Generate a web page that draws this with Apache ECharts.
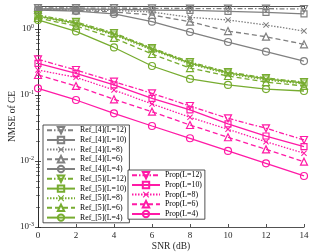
<!DOCTYPE html>
<html><head><meta charset="utf-8">
<script src="https://cdn.jsdelivr.net/npm/echarts@6/dist/echarts.min.js"></script>
<style>html,body{margin:0;padding:0;background:#fff}#c{width:318px;height:252px}</style>
</head><body><div id="c"></div>
<script>
const snr = [0, 2, 4, 6, 8, 10, 12, 14];
const yTicks = [0.001, 0.01, 0.1, 1];

const ref4_L12 = [2.08, 2.08, 2.07, 2.05, 2.04, 2.04, 2.03, 2.01];
const ref4_L10 = [2.01, 2.01, 1.98, 1.94, 1.91, 1.85, 1.78, 1.69];
const ref4_L8  = [2.01, 1.94, 1.91, 1.81, 1.50, 1.37, 1.15, 0.93];
const ref4_L6  = [1.94, 1.91, 1.81, 1.63, 1.29, 0.93, 0.764, 0.586];
const ref4_L4  = [1.94, 1.87, 1.69, 1.29, 0.90, 0.635, 0.453, 0.327];

const ref5_L12 = [1.63, 1.28, 0.869, 0.515, 0.316, 0.223, 0.181, 0.157];
const ref5_L10 = [1.57, 1.23, 0.84, 0.498, 0.305, 0.216, 0.175, 0.152];
const ref5_L8  = [1.55, 1.19, 0.811, 0.481, 0.295, 0.208, 0.169, 0.147];
const ref5_L6  = [1.47, 1.11, 0.731, 0.418, 0.256, 0.194, 0.157, 0.137];
const ref5_L4  = [1.37, 0.917, 0.525, 0.275, 0.175, 0.142, 0.123, 0.115];

const prop_L12 = [0.347, 0.239, 0.159, 0.106, 0.0681, 0.0443, 0.0313, 0.0208];
const prop_L10 = [0.302, 0.213, 0.142, 0.0891, 0.0593, 0.0364, 0.0239, 0.0165];
const prop_L8  = [0.239, 0.185, 0.119, 0.0731, 0.0459, 0.0302, 0.0196, 0.0131];
const prop_L6  = [0.201, 0.137, 0.0861, 0.0558, 0.0351, 0.0229, 0.0150, 0.00976];
const prop_L4  = [0.126, 0.0840, 0.0528, 0.0339, 0.0221, 0.0142, 0.00923, 0.00593];

const GRAY = '#808080', GREEN = '#77ac30', MAG = '#ff1aa6';
const AX = '#262626';
const FONT = 'Liberation Serif';
const CROSS = 'path://M0,1.2L1.2,0L5,3.8L8.8,0L10,1.2L6.2,5L10,8.8L8.8,10L5,6.2L1.2,10L0,8.8L3.8,5Z';

const styles = {
  12: {type: [5, 2, 1.5, 2], symbol: 'triangle', rotate: 180, size: 7},
  10: {type: 'solid', symbol: 'rect', rotate: 0, size: 6},
  8:  {type: [1.5, 1.5], symbol: CROSS, rotate: 0, size: 6, fill: true},
  6:  {type: [5, 3], symbol: 'triangle', rotate: 0, size: 7},
  4:  {type: 'solid', symbol: 'circle', rotate: 0, size: 7}
};

function mk(name, vals, color, L) {
  const s = styles[L];
  return {
    name: name, type: 'line',
    data: snr.map((x, i) => [x, vals[i]]),
    symbol: s.symbol, symbolSize: s.size, symbolRotate: s.rotate,
    showAllSymbol: true,
    lineStyle: {color: color, width: 1.3, type: s.type},
    itemStyle: s.fill ? {color: color} : {color: 'rgba(255,255,255,0)', borderColor: color, borderWidth: 1.2},
    emphasis: {disabled: true},
    animation: false
  };
}

const series = [
  mk('Ref_[4](L=12)', ref4_L12, GRAY, 12),
  mk('Ref_[4](L=10)', ref4_L10, GRAY, 10),
  mk('Ref_[4](L=8)', ref4_L8, GRAY, 8),
  mk('Ref_[4](L=6)', ref4_L6, GRAY, 6),
  mk('Ref_[4](L=4)', ref4_L4, GRAY, 4),
  mk('Ref_[5](L=12)', ref5_L12, GREEN, 12),
  mk('Ref_[5](L=10)', ref5_L10, GREEN, 10),
  mk('Ref_[5](L=8)', ref5_L8, GREEN, 8),
  mk('Ref_[5](L=6)', ref5_L6, GREEN, 6),
  mk('Ref_[5](L=4)', ref5_L4, GREEN, 4),
  mk('Prop(L=12)', prop_L12, MAG, 12),
  mk('Prop(L=10)', prop_L10, MAG, 10),
  mk('Prop(L=8)', prop_L8, MAG, 8),
  mk('Prop(L=6)', prop_L6, MAG, 6),
  mk('Prop(L=4)', prop_L4, MAG, 4)
];

const legendCommon = {
  orient: 'vertical', itemWidth: 28, itemHeight: 8, itemGap: 1.4,
  backgroundColor: '#fff', borderColor: AX, borderWidth: 0.8, borderRadius: 0,
  textStyle: {fontFamily: FONT, fontSize: 7.8, color: '#000'},
  selectedMode: false
};

const yLabel = {
  fontFamily: FONT, color: AX, margin: 4, showMaxLabel: false,
  formatter: v => '{b|10}{s|' + Math.round(Math.log10(v)) + '}',
  rich: {
    b: {fontFamily: FONT, fontSize: 9, color: AX},
    s: {fontFamily: FONT, fontSize: 6, color: AX, verticalAlign: 'top', padding: [0, 0, 6, 0]}
  }
};

const option = {
  animation: false,
  grid: {left: 38, right: 14, top: 6, bottom: 25, show: false, containLabel: false, outerBoundsMode: 'none'},
  legend: [
    Object.assign({}, legendCommon, {
      left: 43, top: 125, padding: [1, 3, 1, 3],
      data: series.slice(0, 10).map(s => s.name)
    }),
    Object.assign({}, legendCommon, {
      left: 128, top: 170, padding: [1, 3, 1, 3],
      data: series.slice(10).map(s => s.name)
    })
  ],
  xAxis: [{
    type: 'value', min: 0, max: 14, interval: 2,
    name: 'SNR (dB)', nameLocation: 'middle', nameGap: 14, nameMoveOverlap: false,
    nameTextStyle: {fontFamily: FONT, fontSize: 9.5, color: AX},
    axisLine: {lineStyle: {color: AX, width: 0.8}},
    axisTick: {inside: true, length: 3, lineStyle: {color: AX, width: 0.8}},
    axisLabel: {fontFamily: FONT, fontSize: 9, color: AX, margin: 4},
    splitLine: {show: false}
  }, {
    type: 'value', min: 0, max: 14, interval: 2, position: 'top',
    axisLine: {lineStyle: {color: AX, width: 0.8}},
    axisTick: {inside: true, length: 3, lineStyle: {color: AX, width: 0.8}},
    axisLabel: {show: false}, splitLine: {show: false}
  }],
  yAxis: [{
    type: 'log', logBase: 10, min: 0.001, max: 2.23,
    name: 'NMSE of CE', nameLocation: 'middle', nameGap: 21, nameMoveOverlap: false,
    nameTextStyle: {fontFamily: FONT, fontSize: 9.5, color: AX},
    axisLine: {show: true, lineStyle: {color: AX, width: 0.8}},
    axisTick: {inside: true, length: 3, lineStyle: {color: AX, width: 0.8}},
    minorTick: {show: true, splitNumber: 9, length: 2, lineStyle: {color: AX, width: 0.6}},
    axisLabel: yLabel,
    splitLine: {show: false}
  }, {
    type: 'log', logBase: 10, min: 0.001, max: 2.23, position: 'right',
    axisLine: {show: true, lineStyle: {color: AX, width: 0.8}},
    axisTick: {inside: true, length: 3, lineStyle: {color: AX, width: 0.8}},
    minorTick: {show: true, splitNumber: 9, length: 2, lineStyle: {color: AX, width: 0.6}},
    axisLabel: {show: false},
    splitLine: {show: false}
  }],
  series: series
};

const chart = echarts.init(document.getElementById('c'), null, {renderer: 'canvas'});
chart.setOption(option);
</script>
</body></html>
